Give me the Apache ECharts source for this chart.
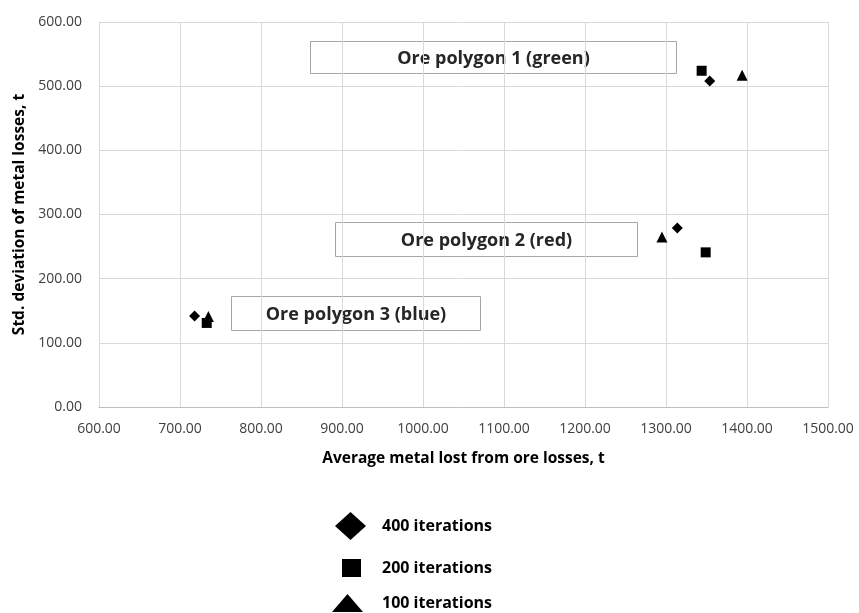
<!DOCTYPE html>
<html><head><meta charset="utf-8">
<script src="https://cdn.jsdelivr.net/npm/echarts@6/dist/echarts.min.js"></script>
<style>html,body{margin:0;padding:0;background:#fff}#c{width:859px;height:613px}</style>
</head><body><div id="c"></div>
<script>
const xTicks = [600, 700, 800, 900, 1000, 1100, 1200, 1300, 1400, 1500];
const yTicks = [0, 100, 200, 300, 400, 500, 600];
const it400 = [[1354, 508], [1314, 279], [718, 142]];
const it200 = [[1344, 524], [1349, 241], [733, 131]];
const it100 = [[1394, 517], [1295, 265], [735, 141]];
const boxLabels = ['Ore polygon 1 (green)', 'Ore polygon 2 (red)', 'Ore polygon 3 (blue)'];

const F = '"Open Sans", "Liberation Sans", sans-serif';
const chart = echarts.init(document.getElementById('c'), null, {renderer: 'canvas'});
const boxes = [
  {x: 310, y: 41, w: 366, h: 32},
  {x: 335, y: 222, w: 302, h: 34},
  {x: 231, y: 296, w: 249, h: 34}
];
const graphic = boxes.map((b, i) => ({
  type: 'group', left: b.x, top: b.y,
  children: [
    {type: 'rect', shape: {x: 0, y: 0, width: b.w, height: b.h}, style: {fill: '#fff', stroke: '#a6a6a6', lineWidth: 1}},
    {type: 'text', x: b.w / 2, y: b.h / 2 + 1, style: {text: boxLabels[i], fill: '#262626', font: 'bold 18px ' + F, align: 'center', verticalAlign: 'middle'}}
  ]
}));
const legendText = {fontFamily: F, fontWeight: 'bold', fontSize: 16, color: '#000'};
const legendCommon = {orient: 'vertical', padding: 0, itemStyle: {color: '#000', opacity: 1}};
chart.setOption({
  animation: false,
  grid: {left: 99, right: 31, top: 22, bottom: 206},
  xAxis: {
    type: 'value', min: 600, max: 1500, interval: 100,
    name: 'Average metal lost from ore losses, t', nameLocation: 'middle', nameGap: 44,
    nameTextStyle: {fontFamily: F, fontWeight: 'bold', fontSize: 15.5, color: '#000'},
    axisLine: {show: true, lineStyle: {color: '#bfbfbf'}},
    axisTick: {show: false},
    axisLabel: {fontFamily: F, fontSize: 14, color: '#404040', margin: 15, formatter: v => v.toFixed(2)},
    splitLine: {show: true, lineStyle: {color: '#d9d9d9'}}
  },
  yAxis: {
    type: 'value', min: 0, max: 600, interval: 100,
    name: 'Std. deviation of metal losses, t', nameLocation: 'middle', nameGap: 71, nameRotate: 90,
    nameTextStyle: {fontFamily: F, fontWeight: 'bold', fontSize: 15.5, color: '#000'},
    axisLine: {show: true, lineStyle: {color: '#d9d9d9'}},
    axisTick: {show: false},
    axisLabel: {fontFamily: F, fontSize: 14, color: '#404040', margin: 17, formatter: v => v.toFixed(2)},
    splitLine: {show: true, lineStyle: {color: '#d9d9d9'}}
  },
  legend: [
    Object.assign({}, legendCommon, {top: 512, left: 335, itemWidth: 31, itemHeight: 28, data: [{name: '400 iterations', icon: 'diamond'}], textStyle: Object.assign({}, legendText, {padding: [0, 0, 0, 11]})}),
    Object.assign({}, legendCommon, {top: 559, left: 342, itemWidth: 19, itemHeight: 18, data: [{name: '200 iterations', icon: 'rect'}], textStyle: Object.assign({}, legendText, {padding: [0, 0, 0, 16]})}),
    Object.assign({}, legendCommon, {top: 594, left: 332, itemWidth: 31, itemHeight: 18, data: [{name: '100 iterations', icon: 'triangle'}], textStyle: Object.assign({}, legendText, {padding: [0, 0, 0, 14]})})
  ],
  graphic: graphic,
  series: [
    {name: '400 iterations', type: 'scatter', symbol: 'diamond', symbolSize: 11, data: it400, itemStyle: {color: '#000', opacity: 1}},
    {name: '200 iterations', type: 'scatter', symbol: 'rect', symbolSize: 10, data: it200, itemStyle: {color: '#000', opacity: 1}},
    {name: '100 iterations', type: 'scatter', symbol: 'triangle', symbolSize: 11, data: it100, itemStyle: {color: '#000', opacity: 1}}
  ]
});
</script></body></html>
